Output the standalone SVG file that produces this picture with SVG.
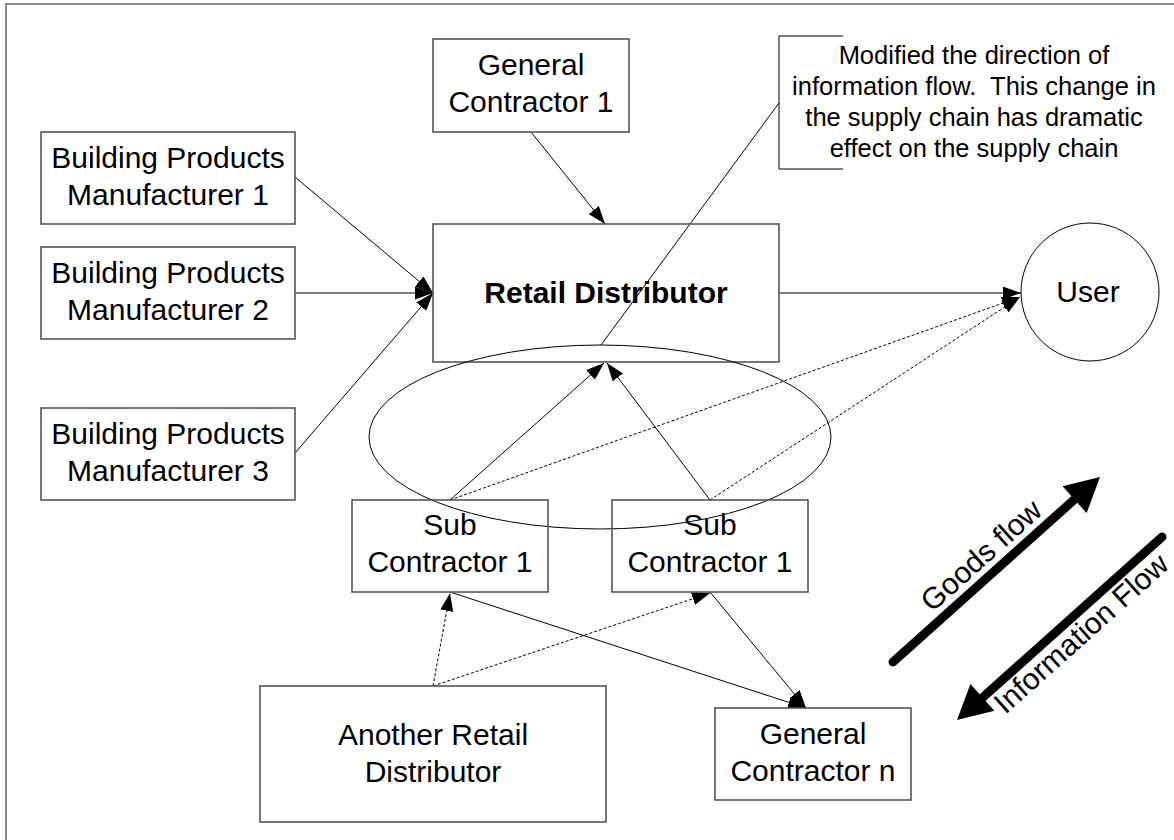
<svg xmlns="http://www.w3.org/2000/svg" width="1174" height="840" viewBox="0 0 1174 840">
<defs>
<style>
.box{fill:#fff;stroke:#555;stroke-width:1.6}
.t{font-family:"Liberation Sans",Arial,sans-serif;font-size:30px;fill:#000;text-anchor:middle}
.b{font-weight:bold}
.c{font-family:"Liberation Sans",Arial,sans-serif;font-size:25.5px;fill:#000;text-anchor:middle}
.ln{stroke:#000;stroke-width:1;fill:none}
.ar{stroke:#000;stroke-width:1;fill:none;marker-end:url(#ah)}
.da{stroke:#000;stroke-width:1;fill:none;stroke-dasharray:3,2;marker-end:url(#ah)}
.big{stroke:#000;stroke-width:9;stroke-linecap:round;fill:none}
</style>
<marker id="ah" viewBox="0 0 18 13" markerWidth="18" markerHeight="13" refX="18" refY="6.5" orient="auto" markerUnits="userSpaceOnUse">
<path d="M0,0 L18,6.5 L0,13 Z" fill="#000"/>
</marker>
</defs>
<rect width="1174" height="840" fill="#fff"/>
<path d="M6,840 V4 H1174" fill="none" stroke="#666" stroke-width="1.5"/>

<g id="connectors">
<line class="ar" x1="531" y1="132" x2="605" y2="224"/>
<line class="ar" x1="295" y1="177" x2="433" y2="293"/>
<line class="ar" x1="295" y1="293" x2="433" y2="293"/>
<line class="ar" x1="295" y1="453" x2="433" y2="293"/>
<line class="ar" x1="779" y1="293" x2="1021" y2="293"/>
<line class="ar" x1="450" y1="500" x2="604" y2="363"/>
<line class="ar" x1="710" y1="500" x2="607" y2="363"/>
<line class="da" x1="450" y1="500" x2="1020" y2="297"/>
<line class="da" x1="710" y1="500" x2="1020" y2="297"/>
<line class="da" x1="433" y1="686" x2="450" y2="593"/>
<line class="da" x1="433" y1="686" x2="710" y2="593"/>
<line class="ar" x1="450" y1="592" x2="806" y2="708"/>
<line class="ar" x1="710" y1="592" x2="806" y2="708"/>
<line class="ln" x1="779" y1="103" x2="601" y2="345"/>
</g>

<g id="callout">
<path class="ln" d="M843,36 H779 V169 H843"/>
<text class="c" x="974" y="64">Modified the direction of</text>
<text class="c" x="974" y="95" xml:space="preserve">information flow.  This change in</text>
<text class="c" x="974" y="126">the supply chain has dramatic</text>
<text class="c" x="974" y="157">effect on the supply chain</text>
</g>

<g id="gc1">
<rect class="box" x="433" y="39" width="196" height="93"/>
<text class="t" x="531" y="75">General</text>
<text class="t" x="531" y="112">Contractor 1</text>
</g>

<g id="bpm1">
<rect class="box" x="41" y="132" width="254" height="92"/>
<text class="t" x="168" y="168">Building Products</text>
<text class="t" x="168" y="205">Manufacturer 1</text>
</g>
<g id="bpm2">
<rect class="box" x="41" y="247" width="254" height="92"/>
<text class="t" x="168" y="283">Building Products</text>
<text class="t" x="168" y="320">Manufacturer 2</text>
</g>
<g id="bpm3">
<rect class="box" x="41" y="408" width="254" height="92"/>
<text class="t" x="168" y="444">Building Products</text>
<text class="t" x="168" y="481">Manufacturer 3</text>
</g>

<g id="retail">
<rect class="box" x="433" y="224" width="346" height="138" style="fill:none"/>
<text class="t b" x="606" y="303">Retail Distributor</text>
</g>

<g id="user">
<circle cx="1090" cy="292" r="69" fill="none" stroke="#000" stroke-width="1"/>
<text class="t" x="1088" y="302">User</text>
</g>

<g id="group-ellipse">
<ellipse cx="600" cy="437" rx="231" ry="92" fill="none" stroke="#000" stroke-width="1"/>
</g>

<g id="sub1">
<rect class="box" x="352" y="500" width="196" height="92" style="fill:none"/>
<text class="t" x="450" y="535">Sub</text>
<text class="t" x="450" y="572">Contractor 1</text>
</g>
<g id="sub2">
<rect class="box" x="612" y="500" width="196" height="92" style="fill:none"/>
<text class="t" x="710" y="535">Sub</text>
<text class="t" x="710" y="572">Contractor 1</text>
</g>

<g id="another">
<rect class="box" x="260" y="686" width="346" height="136"/>
<text class="t" x="433" y="745">Another Retail</text>
<text class="t" x="433" y="782">Distributor</text>
</g>

<g id="gcn">
<rect class="box" x="715" y="708" width="196" height="92"/>
<text class="t" x="813" y="744">General</text>
<text class="t" x="813" y="781">Contractor n</text>
</g>

<g id="goods-flow">
<line class="big" x1="893" y1="662" x2="1076" y2="498"/>
<polygon points="1100,477 1086.6,513.1 1062.6,486.3" fill="#000"/>
<text class="t" transform="translate(988,563) rotate(-41.8)">Goods flow</text>
</g>
<g id="information-flow">
<line class="big" x1="1162" y1="537" x2="981" y2="699"/>
<polygon points="957,720 994.4,710.7 970.4,683.9" fill="#000"/>
<text class="t" transform="translate(1088,641) rotate(-41.8)">Information Flow</text>
</g>
</svg>
